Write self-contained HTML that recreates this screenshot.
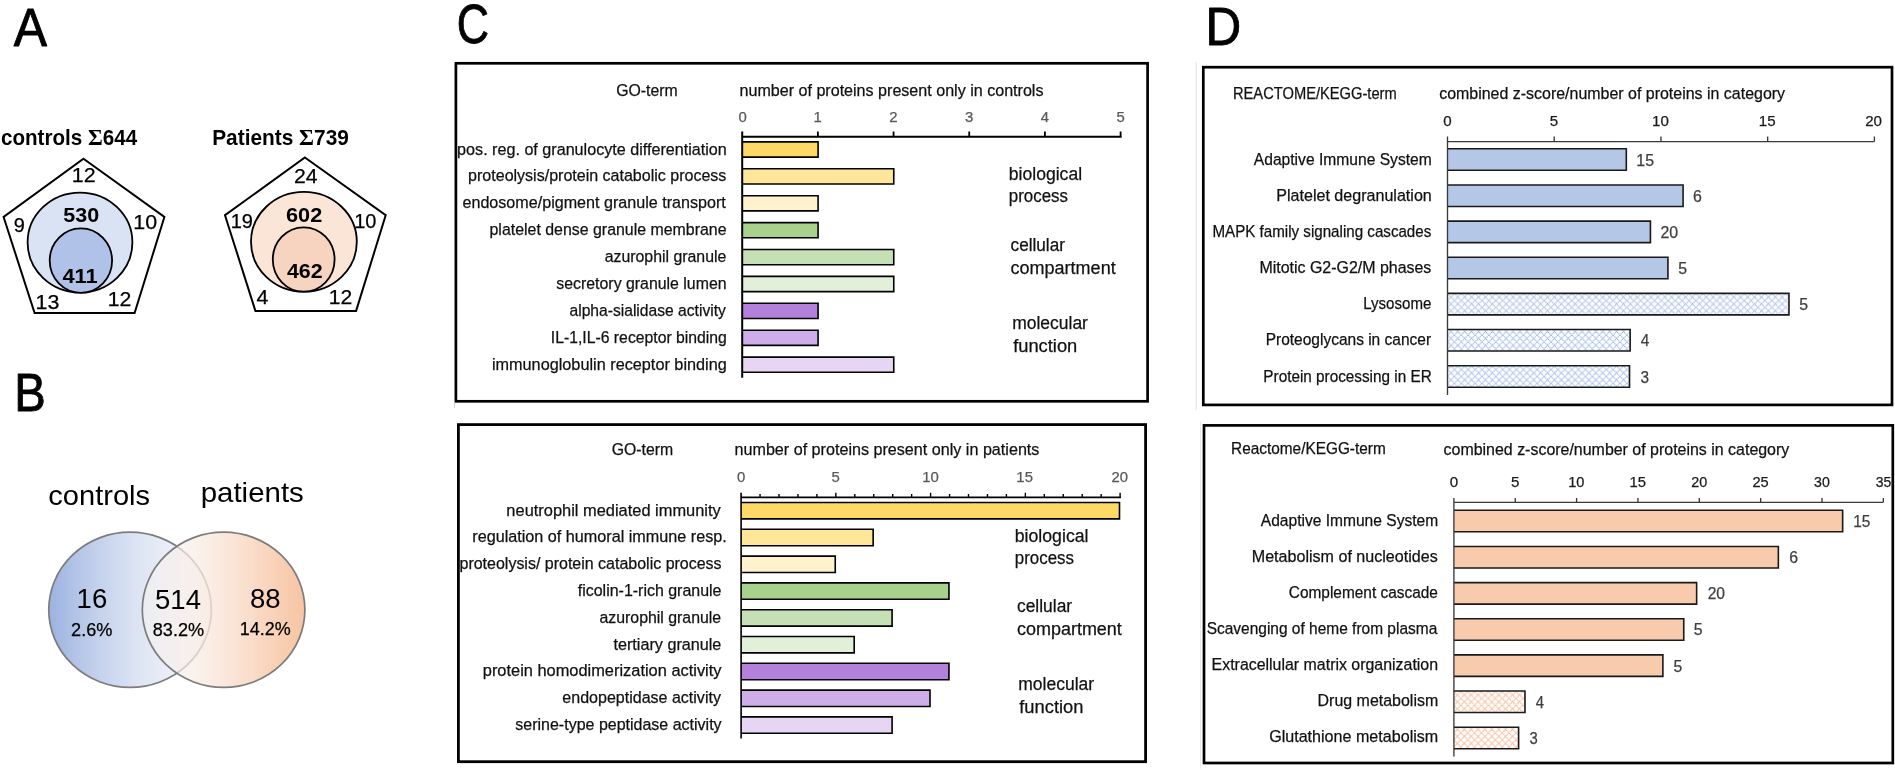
<!DOCTYPE html>
<html lang="en"><head><meta charset="utf-8"><title>Figure</title>
<style>
html,body{margin:0;padding:0;background:#fff}
body{width:1895px;height:770px;overflow:hidden}
svg{display:block}
text{font-family:"Liberation Sans",sans-serif}
</style></head><body>
<svg width="1895" height="770" viewBox="0 0 1895 770">
<defs>
<linearGradient id="gb" x1="0" y1="0" x2="1" y2="0">
<stop offset="0" stop-color="#9bb2e0"/><stop offset="0.3" stop-color="#c4d1ec"/><stop offset="0.55" stop-color="#dde4f3"/><stop offset="0.8" stop-color="#eef1f8"/><stop offset="1" stop-color="#f8f9fc"/>
</linearGradient>
<linearGradient id="go" x1="0" y1="0" x2="1" y2="0">
<stop offset="0" stop-color="#f5f3f2" stop-opacity="0.55"/><stop offset="0.35" stop-color="#f9ece4" stop-opacity="0.75"/><stop offset="0.75" stop-color="#f9d4bc" stop-opacity="0.95"/><stop offset="1" stop-color="#f7c4a2" stop-opacity="1"/>
</linearGradient>
<pattern id="hb" width="6.9" height="6.9" patternUnits="userSpaceOnUse" x="1447.5" y="293.6">
<rect width="6.9" height="6.9" fill="#fff"/>
<path d="M0 0L6.9 6.9M6.9 0L0 6.9" stroke="#96b0e2" stroke-width="1.0" stroke-dasharray="1.3 0.6" fill="none"/>
</pattern>
<pattern id="ho" width="6.9" height="6.9" patternUnits="userSpaceOnUse" x="1453.9" y="691.5">
<rect width="6.9" height="6.9" fill="#fff"/>
<path d="M0 0L6.9 6.9M6.9 0L0 6.9" stroke="#f3ac82" stroke-width="1.0" stroke-dasharray="1.3 0.6" fill="none"/>
</pattern>
</defs>
<rect width="1895" height="770" fill="#fff"/>
<g style="filter:blur(0.35px)">

<polygon points="83.5,158.8 164.4,217.0 134.6,313.1 34.6,313.1 3.6,217.0" fill="#fff" stroke="#000" stroke-width="2.0" stroke-linejoin="miter"/>
<ellipse cx="80" cy="242.5" rx="52.4" ry="49.9" fill="#d9e3f4" stroke="#000" stroke-width="1.8"/>
<ellipse cx="80.9" cy="260.6" rx="31.2" ry="32.3" fill="#b0c2e8" stroke="#000" stroke-width="1.8"/>
<polygon points="304.9,157.5 385.7,215.2 356.1,310.9 255.4,310.9 225.0,215.2" fill="#fff" stroke="#000" stroke-width="2.0" stroke-linejoin="miter"/>
<ellipse cx="303.9" cy="241.8" rx="52.9" ry="49.9" fill="#fbe5d6" stroke="#000" stroke-width="1.8"/>
<ellipse cx="303.7" cy="259.5" rx="30.9" ry="32.2" fill="#f7d4bf" stroke="#000" stroke-width="1.8"/>
<ellipse cx="130.05" cy="609.8" rx="81.3" ry="77.6" fill="url(#gb)" stroke="#7c7c7c" stroke-width="1.7"/>
<ellipse cx="223.6" cy="609.8" rx="81.3" ry="77.6" fill="url(#go)" stroke="#7c7c7c" stroke-width="1.7"/>
<rect x="455.9" y="63.3" width="691.70" height="338.00" fill="none" stroke="#000" stroke-width="2.7"/>
<rect x="458.4" y="424.6" width="687.20" height="337.10" fill="none" stroke="#000" stroke-width="2.8"/>
<rect x="1203.3" y="67.2" width="688.70" height="337.70" fill="none" stroke="#000" stroke-width="2.7"/>
<rect x="1204.0" y="425.4" width="688.80" height="337.60" fill="none" stroke="#000" stroke-width="2.7"/>
<path d="M454.4 402.5V408" stroke="#d0d0d0" stroke-width="1"/>
<path d="M1196.2 62V410" stroke="#e3e3e3" stroke-width="1"/>
<path d="M1200.6 421.8V768.7" stroke="#e8e8e8" stroke-width="1"/>
<rect x="742.2" y="141.90" width="75.88" height="15.20" fill="#ffd966"/>
<path d="M742.2 141.90h75.88v15.20h-75.88" fill="none" stroke="#000" stroke-width="1.6"/>
<rect x="742.2" y="168.80" width="151.56" height="15.20" fill="#ffe699"/>
<path d="M742.2 168.80h151.56v15.20h-151.56" fill="none" stroke="#000" stroke-width="1.6"/>
<rect x="742.2" y="195.70" width="75.88" height="15.20" fill="#fff2cc"/>
<path d="M742.2 195.70h75.88v15.20h-75.88" fill="none" stroke="#000" stroke-width="1.6"/>
<rect x="742.2" y="222.60" width="75.88" height="15.20" fill="#a9d18e"/>
<path d="M742.2 222.60h75.88v15.20h-75.88" fill="none" stroke="#000" stroke-width="1.6"/>
<rect x="742.2" y="249.50" width="151.56" height="15.20" fill="#c5e0b4"/>
<path d="M742.2 249.50h151.56v15.20h-151.56" fill="none" stroke="#000" stroke-width="1.6"/>
<rect x="742.2" y="276.40" width="151.56" height="15.20" fill="#e2f0d9"/>
<path d="M742.2 276.40h151.56v15.20h-151.56" fill="none" stroke="#000" stroke-width="1.6"/>
<rect x="742.2" y="303.30" width="75.88" height="15.20" fill="#b381db"/>
<path d="M742.2 303.30h75.88v15.20h-75.88" fill="none" stroke="#000" stroke-width="1.6"/>
<rect x="742.2" y="330.20" width="75.88" height="15.20" fill="#cdaee8"/>
<path d="M742.2 330.20h75.88v15.20h-75.88" fill="none" stroke="#000" stroke-width="1.6"/>
<rect x="742.2" y="357.10" width="151.56" height="15.20" fill="#e6d5f3"/>
<path d="M742.2 357.10h151.56v15.20h-151.56" fill="none" stroke="#000" stroke-width="1.6"/>
<path d="M742.2 131.6V377.8M741.2 136.8H1121.60" stroke="#000" stroke-width="2.0" fill="none"/>
<path d="M817.88 131.6V136.8M893.56 131.6V136.8M969.24 131.6V136.8M1044.92 131.6V136.8M1120.60 131.6V136.8" stroke="#000" stroke-width="1.8" fill="none"/>
<rect x="741.1" y="502.50" width="378.40" height="16.40" fill="#ffd966"/>
<path d="M741.1 502.50h378.40v16.40h-378.40" fill="none" stroke="#000" stroke-width="1.6"/>
<rect x="741.1" y="529.30" width="132.05" height="16.40" fill="#ffe699"/>
<path d="M741.1 529.30h132.05v16.40h-132.05" fill="none" stroke="#000" stroke-width="1.6"/>
<rect x="741.1" y="556.10" width="94.15" height="16.40" fill="#fff2cc"/>
<path d="M741.1 556.10h94.15v16.40h-94.15" fill="none" stroke="#000" stroke-width="1.6"/>
<rect x="741.1" y="582.90" width="207.85" height="16.40" fill="#a9d18e"/>
<path d="M741.1 582.90h207.85v16.40h-207.85" fill="none" stroke="#000" stroke-width="1.6"/>
<rect x="741.1" y="609.70" width="151.00" height="16.40" fill="#c5e0b4"/>
<path d="M741.1 609.70h151.00v16.40h-151.00" fill="none" stroke="#000" stroke-width="1.6"/>
<rect x="741.1" y="636.50" width="113.10" height="16.40" fill="#e2f0d9"/>
<path d="M741.1 636.50h113.10v16.40h-113.10" fill="none" stroke="#000" stroke-width="1.6"/>
<rect x="741.1" y="663.30" width="207.85" height="16.40" fill="#b381db"/>
<path d="M741.1 663.30h207.85v16.40h-207.85" fill="none" stroke="#000" stroke-width="1.6"/>
<rect x="741.1" y="690.10" width="188.90" height="16.40" fill="#cdaee8"/>
<path d="M741.1 690.10h188.90v16.40h-188.90" fill="none" stroke="#000" stroke-width="1.6"/>
<rect x="741.1" y="716.90" width="151.00" height="16.40" fill="#e6d5f3"/>
<path d="M741.1 716.90h151.00v16.40h-151.00" fill="none" stroke="#000" stroke-width="1.6"/>
<path d="M741.1 492.8V738.4M740.3000000000001 497.4H1120.90" stroke="#000" stroke-width="1.6" fill="none"/>
<path d="M760.05 494.0V497.4M779.00 494.0V497.4M797.95 494.0V497.4M816.90 494.0V497.4M835.85 492.8V497.4M854.80 494.0V497.4M873.75 494.0V497.4M892.70 494.0V497.4M911.65 494.0V497.4M930.60 492.8V497.4M949.55 494.0V497.4M968.50 494.0V497.4M987.45 494.0V497.4M1006.40 494.0V497.4M1025.35 492.8V497.4M1044.30 494.0V497.4M1063.25 494.0V497.4M1082.20 494.0V497.4M1101.15 494.0V497.4M1120.10 492.8V497.4" stroke="#000" stroke-width="1.4" fill="none"/>
<rect x="1447.5" y="148.80" width="178.81" height="21.50" fill="#b4c7e7"/>
<path d="M1447.5 148.80h178.81v21.50h-178.81" fill="none" stroke="#1a1a1a" stroke-width="1.6"/>
<rect x="1447.5" y="184.95" width="235.59" height="21.50" fill="#b4c7e7"/>
<path d="M1447.5 184.95h235.59v21.50h-235.59" fill="none" stroke="#1a1a1a" stroke-width="1.6"/>
<rect x="1447.5" y="221.10" width="202.93" height="21.50" fill="#b4c7e7"/>
<path d="M1447.5 221.10h202.93v21.50h-202.93" fill="none" stroke="#1a1a1a" stroke-width="1.6"/>
<rect x="1447.5" y="257.25" width="220.43" height="21.50" fill="#b4c7e7"/>
<path d="M1447.5 257.25h220.43v21.50h-220.43" fill="none" stroke="#1a1a1a" stroke-width="1.6"/>
<rect x="1447.5" y="293.40" width="341.46" height="21.50" fill="url(#hb)"/>
<path d="M1447.5 293.40h341.46v21.50h-341.46" fill="none" stroke="#1a1a1a" stroke-width="1.6"/>
<rect x="1447.5" y="329.55" width="182.65" height="21.50" fill="url(#hb)"/>
<path d="M1447.5 329.55h182.65v21.50h-182.65" fill="none" stroke="#1a1a1a" stroke-width="1.6"/>
<rect x="1447.5" y="365.70" width="182.01" height="21.50" fill="url(#hb)"/>
<path d="M1447.5 365.70h182.01v21.50h-182.01" fill="none" stroke="#1a1a1a" stroke-width="1.6"/>
<path d="M1447.5 136.6V394.9M1447.5 141.6H1874.40M1554.22 136.6V141.6M1660.95 136.6V141.6M1767.67 136.6V141.6M1874.40 136.6V141.6" stroke="#3a3a3a" stroke-width="1.35" fill="none"/>
<rect x="1453.9" y="510.30" width="388.75" height="21.50" fill="#f8cbad"/>
<path d="M1453.9 510.30h388.75v21.50h-388.75" fill="none" stroke="#1a1a1a" stroke-width="1.6"/>
<rect x="1453.9" y="546.45" width="324.45" height="21.50" fill="#f8cbad"/>
<path d="M1453.9 546.45h324.45v21.50h-324.45" fill="none" stroke="#1a1a1a" stroke-width="1.6"/>
<rect x="1453.9" y="582.60" width="242.74" height="21.50" fill="#f8cbad"/>
<path d="M1453.9 582.60h242.74v21.50h-242.74" fill="none" stroke="#1a1a1a" stroke-width="1.6"/>
<rect x="1453.9" y="618.75" width="229.85" height="21.50" fill="#f8cbad"/>
<path d="M1453.9 618.75h229.85v21.50h-229.85" fill="none" stroke="#1a1a1a" stroke-width="1.6"/>
<rect x="1453.9" y="654.90" width="208.99" height="21.50" fill="#f8cbad"/>
<path d="M1453.9 654.90h208.99v21.50h-208.99" fill="none" stroke="#1a1a1a" stroke-width="1.6"/>
<rect x="1453.9" y="691.05" width="71.08" height="21.50" fill="url(#ho)"/>
<path d="M1453.9 691.05h71.08v21.50h-71.08" fill="none" stroke="#1a1a1a" stroke-width="1.6"/>
<rect x="1453.9" y="727.20" width="64.70" height="21.50" fill="url(#ho)"/>
<path d="M1453.9 727.20h64.70v21.50h-64.70" fill="none" stroke="#1a1a1a" stroke-width="1.6"/>
<path d="M1453.9 497.9V756.4M1453.9 502.3H1883.35M1515.25 497.9V502.3M1576.60 497.9V502.3M1637.95 497.9V502.3M1699.30 497.9V502.3M1760.65 497.9V502.3M1822.00 497.9V502.3M1883.35 497.9V502.3" stroke="#3a3a3a" stroke-width="1.35" fill="none"/>
<text x="13.82" y="45.55" font-size="53.2" stroke="#000" stroke-width="0.9" stroke-linejoin="round" fill="#000" textLength="33.25" lengthAdjust="spacingAndGlyphs">A</text>
<text x="14.28" y="411.35" font-size="53.2" stroke="#000" stroke-width="0.9" stroke-linejoin="round" fill="#000" textLength="31.50" lengthAdjust="spacingAndGlyphs">B</text>
<text x="456.81" y="42.70" font-size="54.8" stroke="#000" stroke-width="0.9" stroke-linejoin="round" fill="#000" textLength="32.23" lengthAdjust="spacingAndGlyphs">C</text>
<text x="1205.60" y="45.15" font-size="53.2" stroke="#000" stroke-width="0.9" stroke-linejoin="round" fill="#000" textLength="35.70" lengthAdjust="spacingAndGlyphs">D</text>
<text x="0.97" y="145.10" font-size="21.2" font-weight="bold" fill="#000" textLength="136.29" lengthAdjust="spacingAndGlyphs">controls <tspan font-family="Liberation Serif,serif" font-weight="bold" font-size="23.3">Σ</tspan>644</text>
<text x="212.22" y="145.10" font-size="21.2" font-weight="bold" fill="#000" textLength="136.62" lengthAdjust="spacingAndGlyphs">Patients <tspan font-family="Liberation Serif,serif" font-weight="bold" font-size="23.3">Σ</tspan>739</text>
<text x="71.84" y="182.00" font-size="21" stroke="#000" stroke-width="0.25" fill="#000" textLength="23.83" lengthAdjust="spacingAndGlyphs">12</text>
<text x="13.82" y="231.70" font-size="21" stroke="#000" stroke-width="0.25" fill="#000" textLength="11.10" lengthAdjust="spacingAndGlyphs">9</text>
<text x="133.26" y="229.00" font-size="21" stroke="#000" stroke-width="0.25" fill="#000" textLength="23.83" lengthAdjust="spacingAndGlyphs">10</text>
<text x="35.57" y="308.50" font-size="21" stroke="#000" stroke-width="0.25" fill="#000" textLength="23.80" lengthAdjust="spacingAndGlyphs">13</text>
<text x="107.78" y="306.10" font-size="21" stroke="#000" stroke-width="0.25" fill="#000" textLength="23.64" lengthAdjust="spacingAndGlyphs">12</text>
<text x="63.23" y="221.80" font-size="21" font-weight="bold" fill="#000" textLength="35.88" lengthAdjust="spacingAndGlyphs">530</text>
<text x="62.43" y="282.50" font-size="21" font-weight="bold" fill="#000" textLength="35.25" lengthAdjust="spacingAndGlyphs">411</text>
<text x="293.99" y="183.10" font-size="21" stroke="#000" stroke-width="0.25" fill="#000" textLength="23.63" lengthAdjust="spacingAndGlyphs">24</text>
<text x="286.03" y="222.40" font-size="21" font-weight="bold" fill="#000" textLength="36.20" lengthAdjust="spacingAndGlyphs">602</text>
<text x="286.94" y="278.00" font-size="21" font-weight="bold" fill="#000" textLength="35.77" lengthAdjust="spacingAndGlyphs">462</text>
<text x="230.67" y="227.70" font-size="21" stroke="#000" stroke-width="0.25" fill="#000" textLength="22.29" lengthAdjust="spacingAndGlyphs">19</text>
<text x="354.15" y="227.70" font-size="21" stroke="#000" stroke-width="0.25" fill="#000" textLength="22.19" lengthAdjust="spacingAndGlyphs">10</text>
<text x="256.44" y="304.00" font-size="21" stroke="#000" stroke-width="0.25" fill="#000" textLength="11.92" lengthAdjust="spacingAndGlyphs">4</text>
<text x="328.79" y="304.00" font-size="21" stroke="#000" stroke-width="0.25" fill="#000" textLength="23.53" lengthAdjust="spacingAndGlyphs">12</text>
<text x="48.33" y="504.70" font-size="28.5" fill="#000" textLength="101.74" lengthAdjust="spacingAndGlyphs">controls</text>
<text x="200.69" y="502.20" font-size="28.5" fill="#000" textLength="103.12" lengthAdjust="spacingAndGlyphs">patients</text>
<text x="76.62" y="607.70" font-size="27" fill="#000" textLength="30.65" lengthAdjust="spacingAndGlyphs">16</text>
<text x="71.11" y="635.70" font-size="18.4" stroke="#000" stroke-width="0.25" fill="#000" textLength="41.35" lengthAdjust="spacingAndGlyphs">2.6%</text>
<text x="155.04" y="608.80" font-size="27" fill="#000" textLength="45.96" lengthAdjust="spacingAndGlyphs">514</text>
<text x="152.76" y="636.40" font-size="18.4" stroke="#000" stroke-width="0.25" fill="#000" textLength="51.39" lengthAdjust="spacingAndGlyphs">83.2%</text>
<text x="250.00" y="607.70" font-size="27" fill="#000" textLength="30.65" lengthAdjust="spacingAndGlyphs">88</text>
<text x="239.63" y="635.30" font-size="18.4" stroke="#000" stroke-width="0.25" fill="#000" textLength="51.01" lengthAdjust="spacingAndGlyphs">14.2%</text>
<text x="616.17" y="95.50" font-size="16.3" stroke="#111" stroke-width="0.25" fill="#111" textLength="61.56" lengthAdjust="spacingAndGlyphs">GO-term</text>
<text x="739.51" y="96.20" font-size="16.3" stroke="#111" stroke-width="0.25" fill="#111" textLength="303.98" lengthAdjust="spacingAndGlyphs">number of proteins present only in controls</text>
<text x="738.52" y="121.80" font-size="14.6" stroke="#595959" stroke-width="0.25" fill="#595959" textLength="8.29" lengthAdjust="spacingAndGlyphs">0</text>
<text x="813.46" y="121.80" font-size="14.6" stroke="#595959" stroke-width="0.25" fill="#595959" textLength="8.29" lengthAdjust="spacingAndGlyphs">1</text>
<text x="889.29" y="121.80" font-size="14.6" stroke="#595959" stroke-width="0.25" fill="#595959" textLength="8.29" lengthAdjust="spacingAndGlyphs">2</text>
<text x="965.12" y="121.80" font-size="14.6" stroke="#595959" stroke-width="0.25" fill="#595959" textLength="8.29" lengthAdjust="spacingAndGlyphs">3</text>
<text x="1040.85" y="121.80" font-size="14.6" stroke="#595959" stroke-width="0.25" fill="#595959" textLength="8.23" lengthAdjust="spacingAndGlyphs">4</text>
<text x="1116.52" y="121.80" font-size="14.6" stroke="#595959" stroke-width="0.25" fill="#595959" textLength="8.29" lengthAdjust="spacingAndGlyphs">5</text>
<text x="457.11" y="154.50" font-size="16.3" stroke="#111" stroke-width="0.25" fill="#111" textLength="269.72" lengthAdjust="spacingAndGlyphs">pos. reg. of granulocyte differentiation</text>
<text x="468.12" y="181.40" font-size="16.3" stroke="#111" stroke-width="0.25" fill="#111" textLength="258.28" lengthAdjust="spacingAndGlyphs">proteolysis/protein catabolic process</text>
<text x="462.46" y="208.30" font-size="16.3" stroke="#111" stroke-width="0.25" fill="#111" textLength="263.34" lengthAdjust="spacingAndGlyphs">endosome/pigment granule transport</text>
<text x="489.52" y="235.20" font-size="16.3" stroke="#111" stroke-width="0.25" fill="#111" textLength="236.99" lengthAdjust="spacingAndGlyphs">platelet dense granule membrane</text>
<text x="604.67" y="262.10" font-size="16.3" stroke="#111" stroke-width="0.25" fill="#111" textLength="121.69" lengthAdjust="spacingAndGlyphs">azurophil granule</text>
<text x="556.31" y="289.00" font-size="16.3" stroke="#111" stroke-width="0.25" fill="#111" textLength="170.29" lengthAdjust="spacingAndGlyphs">secretory granule lumen</text>
<text x="569.48" y="315.90" font-size="16.3" stroke="#111" stroke-width="0.25" fill="#111" textLength="156.37" lengthAdjust="spacingAndGlyphs">alpha-sialidase activity</text>
<text x="550.85" y="342.80" font-size="16.3" stroke="#111" stroke-width="0.25" fill="#111" textLength="175.98" lengthAdjust="spacingAndGlyphs">IL-1,IL-6 receptor binding</text>
<text x="491.90" y="369.70" font-size="16.3" stroke="#111" stroke-width="0.25" fill="#111" textLength="234.87" lengthAdjust="spacingAndGlyphs">immunoglobulin receptor binding</text>
<text x="1008.80" y="179.70" font-size="18.3" stroke="#111" stroke-width="0.25" fill="#111" textLength="73.29" lengthAdjust="spacingAndGlyphs">biological</text>
<text x="1008.84" y="202.40" font-size="18.3" stroke="#111" stroke-width="0.25" fill="#111" textLength="59.16" lengthAdjust="spacingAndGlyphs">process</text>
<text x="1010.60" y="251.10" font-size="18.3" stroke="#111" stroke-width="0.25" fill="#111" textLength="54.30" lengthAdjust="spacingAndGlyphs">cellular</text>
<text x="1010.56" y="274.20" font-size="18.3" stroke="#111" stroke-width="0.25" fill="#111" textLength="105.12" lengthAdjust="spacingAndGlyphs">compartment</text>
<text x="1012.21" y="328.80" font-size="18.3" stroke="#111" stroke-width="0.25" fill="#111" textLength="75.73" lengthAdjust="spacingAndGlyphs">molecular</text>
<text x="1013.15" y="351.70" font-size="18.3" stroke="#111" stroke-width="0.25" fill="#111" textLength="64.13" lengthAdjust="spacingAndGlyphs">function</text>
<text x="611.77" y="454.70" font-size="16.3" stroke="#111" stroke-width="0.25" fill="#111" textLength="61.46" lengthAdjust="spacingAndGlyphs">GO-term</text>
<text x="734.51" y="455.10" font-size="16.3" stroke="#111" stroke-width="0.25" fill="#111" textLength="304.90" lengthAdjust="spacingAndGlyphs">number of proteins present only in patients</text>
<text x="736.92" y="481.70" font-size="14.6" stroke="#595959" stroke-width="0.25" fill="#595959" textLength="8.29" lengthAdjust="spacingAndGlyphs">0</text>
<text x="831.52" y="481.70" font-size="14.6" stroke="#595959" stroke-width="0.25" fill="#595959" textLength="8.29" lengthAdjust="spacingAndGlyphs">5</text>
<text x="922.16" y="481.70" font-size="14.6" stroke="#595959" stroke-width="0.25" fill="#595959" textLength="16.56" lengthAdjust="spacingAndGlyphs">10</text>
<text x="1016.36" y="481.70" font-size="14.6" stroke="#595959" stroke-width="0.25" fill="#595959" textLength="16.56" lengthAdjust="spacingAndGlyphs">15</text>
<text x="1111.64" y="481.70" font-size="14.6" stroke="#595959" stroke-width="0.25" fill="#595959" textLength="16.45" lengthAdjust="spacingAndGlyphs">20</text>
<text x="506.39" y="515.60" font-size="16.3" stroke="#111" stroke-width="0.25" fill="#111" textLength="214.38" lengthAdjust="spacingAndGlyphs">neutrophil mediated immunity</text>
<text x="472.31" y="542.40" font-size="16.3" stroke="#111" stroke-width="0.25" fill="#111" textLength="254.49" lengthAdjust="spacingAndGlyphs">regulation of humoral immune resp.</text>
<text x="459.52" y="569.20" font-size="16.3" stroke="#111" stroke-width="0.25" fill="#111" textLength="262.09" lengthAdjust="spacingAndGlyphs">proteolysis/ protein catabolic process</text>
<text x="577.75" y="596.00" font-size="16.3" stroke="#111" stroke-width="0.25" fill="#111" textLength="143.74" lengthAdjust="spacingAndGlyphs">ficolin-1-rich granule</text>
<text x="599.47" y="622.80" font-size="16.3" stroke="#111" stroke-width="0.25" fill="#111" textLength="121.69" lengthAdjust="spacingAndGlyphs">azurophil granule</text>
<text x="613.45" y="649.60" font-size="16.3" stroke="#111" stroke-width="0.25" fill="#111" textLength="107.95" lengthAdjust="spacingAndGlyphs">tertiary granule</text>
<text x="482.79" y="676.40" font-size="16.3" stroke="#111" stroke-width="0.25" fill="#111" textLength="238.70" lengthAdjust="spacingAndGlyphs">protein homodimerization activity</text>
<text x="562.36" y="703.20" font-size="16.3" stroke="#111" stroke-width="0.25" fill="#111" textLength="158.56" lengthAdjust="spacingAndGlyphs">endopeptidase activity</text>
<text x="515.31" y="730.00" font-size="16.3" stroke="#111" stroke-width="0.25" fill="#111" textLength="206.31" lengthAdjust="spacingAndGlyphs">serine-type peptidase activity</text>
<text x="1014.79" y="541.70" font-size="18.3" stroke="#111" stroke-width="0.25" fill="#111" textLength="73.70" lengthAdjust="spacingAndGlyphs">biological</text>
<text x="1014.84" y="564.40" font-size="18.3" stroke="#111" stroke-width="0.25" fill="#111" textLength="59.16" lengthAdjust="spacingAndGlyphs">process</text>
<text x="1016.99" y="612.30" font-size="18.3" stroke="#111" stroke-width="0.25" fill="#111" textLength="55.12" lengthAdjust="spacingAndGlyphs">cellular</text>
<text x="1016.96" y="635.00" font-size="18.3" stroke="#111" stroke-width="0.25" fill="#111" textLength="104.92" lengthAdjust="spacingAndGlyphs">compartment</text>
<text x="1018.30" y="689.90" font-size="18.3" stroke="#111" stroke-width="0.25" fill="#111" textLength="75.84" lengthAdjust="spacingAndGlyphs">molecular</text>
<text x="1019.25" y="712.60" font-size="18.3" stroke="#111" stroke-width="0.25" fill="#111" textLength="64.24" lengthAdjust="spacingAndGlyphs">function</text>
<text x="1232.97" y="98.70" font-size="16.3" stroke="#111" stroke-width="0.25" fill="#111" textLength="163.76" lengthAdjust="spacingAndGlyphs">REACTOME/KEGG-term</text>
<text x="1439.16" y="99.00" font-size="16.3" stroke="#111" stroke-width="0.25" fill="#111" textLength="345.92" lengthAdjust="spacingAndGlyphs">combined z-score/number of proteins in category</text>
<text x="1443.39" y="126.00" font-size="14.8" stroke="#1a1a1a" stroke-width="0.25" fill="#1a1a1a" textLength="8.40" lengthAdjust="spacingAndGlyphs">0</text>
<text x="1549.89" y="126.00" font-size="14.8" stroke="#1a1a1a" stroke-width="0.25" fill="#1a1a1a" textLength="8.40" lengthAdjust="spacingAndGlyphs">5</text>
<text x="1652.03" y="126.00" font-size="14.8" stroke="#1a1a1a" stroke-width="0.25" fill="#1a1a1a" textLength="16.80" lengthAdjust="spacingAndGlyphs">10</text>
<text x="1758.86" y="126.00" font-size="14.8" stroke="#1a1a1a" stroke-width="0.25" fill="#1a1a1a" textLength="16.80" lengthAdjust="spacingAndGlyphs">15</text>
<text x="1865.16" y="126.00" font-size="14.8" stroke="#1a1a1a" stroke-width="0.25" fill="#1a1a1a" textLength="16.80" lengthAdjust="spacingAndGlyphs">20</text>
<text x="1253.80" y="164.60" font-size="16.3" stroke="#111" stroke-width="0.25" fill="#111" textLength="177.97" lengthAdjust="spacingAndGlyphs">Adaptive Immune System</text>
<text x="1276.27" y="200.75" font-size="16.3" stroke="#111" stroke-width="0.25" fill="#111" textLength="155.54" lengthAdjust="spacingAndGlyphs">Platelet degranulation</text>
<text x="1212.44" y="236.90" font-size="16.3" stroke="#111" stroke-width="0.25" fill="#111" textLength="218.86" lengthAdjust="spacingAndGlyphs">MAPK family signaling cascades</text>
<text x="1259.38" y="273.05" font-size="16.3" stroke="#111" stroke-width="0.25" fill="#111" textLength="171.96" lengthAdjust="spacingAndGlyphs">Mitotic G2-G2/M phases</text>
<text x="1363.24" y="309.20" font-size="16.3" stroke="#111" stroke-width="0.25" fill="#111" textLength="68.12" lengthAdjust="spacingAndGlyphs">Lysosome</text>
<text x="1265.71" y="345.35" font-size="16.3" stroke="#111" stroke-width="0.25" fill="#111" textLength="165.34" lengthAdjust="spacingAndGlyphs">Proteoglycans in cancer</text>
<text x="1263.33" y="381.50" font-size="16.3" stroke="#111" stroke-width="0.25" fill="#111" textLength="168.36" lengthAdjust="spacingAndGlyphs">Protein processing in ER</text>
<text x="1636.37" y="165.60" font-size="15.6" stroke="#404040" stroke-width="0.25" fill="#404040" textLength="17.71" lengthAdjust="spacingAndGlyphs">15</text>
<text x="1693.09" y="201.75" font-size="15.6" stroke="#404040" stroke-width="0.25" fill="#404040" textLength="8.86" lengthAdjust="spacingAndGlyphs">6</text>
<text x="1660.44" y="237.90" font-size="15.6" stroke="#404040" stroke-width="0.25" fill="#404040" textLength="17.68" lengthAdjust="spacingAndGlyphs">20</text>
<text x="1678.29" y="274.05" font-size="15.6" stroke="#404040" stroke-width="0.25" fill="#404040" textLength="8.86" lengthAdjust="spacingAndGlyphs">5</text>
<text x="1799.19" y="310.20" font-size="15.6" stroke="#404040" stroke-width="0.25" fill="#404040" textLength="8.86" lengthAdjust="spacingAndGlyphs">5</text>
<text x="1640.75" y="346.35" font-size="15.6" stroke="#404040" stroke-width="0.25" fill="#404040" textLength="8.58" lengthAdjust="spacingAndGlyphs">4</text>
<text x="1640.51" y="382.50" font-size="15.6" stroke="#404040" stroke-width="0.25" fill="#404040" textLength="8.57" lengthAdjust="spacingAndGlyphs">3</text>
<text x="1231.02" y="454.30" font-size="16.3" stroke="#111" stroke-width="0.25" fill="#111" textLength="154.74" lengthAdjust="spacingAndGlyphs">Reactome/KEGG-term</text>
<text x="1443.57" y="455.30" font-size="16.3" stroke="#111" stroke-width="0.25" fill="#111" textLength="345.72" lengthAdjust="spacingAndGlyphs">combined z-score/number of proteins in category</text>
<text x="1449.69" y="487.20" font-size="14.8" stroke="#1a1a1a" stroke-width="0.25" fill="#1a1a1a" textLength="8.40" lengthAdjust="spacingAndGlyphs">0</text>
<text x="1511.04" y="487.20" font-size="14.8" stroke="#1a1a1a" stroke-width="0.25" fill="#1a1a1a" textLength="8.40" lengthAdjust="spacingAndGlyphs">5</text>
<text x="1568.21" y="487.20" font-size="14.8" stroke="#1a1a1a" stroke-width="0.25" fill="#1a1a1a" textLength="16.25" lengthAdjust="spacingAndGlyphs">10</text>
<text x="1629.55" y="487.20" font-size="14.8" stroke="#1a1a1a" stroke-width="0.25" fill="#1a1a1a" textLength="16.52" lengthAdjust="spacingAndGlyphs">15</text>
<text x="1691.17" y="487.20" font-size="14.8" stroke="#1a1a1a" stroke-width="0.25" fill="#1a1a1a" textLength="15.98" lengthAdjust="spacingAndGlyphs">20</text>
<text x="1752.51" y="487.20" font-size="14.8" stroke="#1a1a1a" stroke-width="0.25" fill="#1a1a1a" textLength="16.25" lengthAdjust="spacingAndGlyphs">25</text>
<text x="1814.12" y="487.20" font-size="14.8" stroke="#1a1a1a" stroke-width="0.25" fill="#1a1a1a" textLength="15.73" lengthAdjust="spacingAndGlyphs">30</text>
<text x="1875.78" y="487.20" font-size="14.8" stroke="#1a1a1a" stroke-width="0.25" fill="#1a1a1a" textLength="15.65" lengthAdjust="spacingAndGlyphs">35</text>
<text x="1260.80" y="525.50" font-size="16.3" stroke="#111" stroke-width="0.25" fill="#111" textLength="177.37" lengthAdjust="spacingAndGlyphs">Adaptive Immune System</text>
<text x="1251.77" y="561.65" font-size="16.3" stroke="#111" stroke-width="0.25" fill="#111" textLength="185.93" lengthAdjust="spacingAndGlyphs">Metabolism of nucleotides</text>
<text x="1288.79" y="597.80" font-size="16.3" stroke="#111" stroke-width="0.25" fill="#111" textLength="149.09" lengthAdjust="spacingAndGlyphs">Complement cascade</text>
<text x="1206.69" y="633.95" font-size="16.3" stroke="#111" stroke-width="0.25" fill="#111" textLength="230.56" lengthAdjust="spacingAndGlyphs">Scavenging of heme from plasma</text>
<text x="1211.58" y="670.10" font-size="16.3" stroke="#111" stroke-width="0.25" fill="#111" textLength="226.51" lengthAdjust="spacingAndGlyphs">Extracellular matrix organization</text>
<text x="1317.57" y="706.25" font-size="16.3" stroke="#111" stroke-width="0.25" fill="#111" textLength="120.67" lengthAdjust="spacingAndGlyphs">Drug metabolism</text>
<text x="1269.16" y="742.40" font-size="16.3" stroke="#111" stroke-width="0.25" fill="#111" textLength="169.08" lengthAdjust="spacingAndGlyphs">Glutathione metabolism</text>
<text x="1853.27" y="526.90" font-size="15.6" stroke="#404040" stroke-width="0.25" fill="#404040" textLength="17.14" lengthAdjust="spacingAndGlyphs">15</text>
<text x="1789.29" y="563.05" font-size="15.6" stroke="#404040" stroke-width="0.25" fill="#404040" textLength="8.86" lengthAdjust="spacingAndGlyphs">6</text>
<text x="1707.65" y="599.20" font-size="15.6" stroke="#404040" stroke-width="0.25" fill="#404040" textLength="17.36" lengthAdjust="spacingAndGlyphs">20</text>
<text x="1693.74" y="635.35" font-size="15.6" stroke="#404040" stroke-width="0.25" fill="#404040" textLength="8.86" lengthAdjust="spacingAndGlyphs">5</text>
<text x="1673.44" y="671.50" font-size="15.6" stroke="#404040" stroke-width="0.25" fill="#404040" textLength="8.75" lengthAdjust="spacingAndGlyphs">5</text>
<text x="1535.76" y="707.65" font-size="15.6" stroke="#404040" stroke-width="0.25" fill="#404040" textLength="8.25" lengthAdjust="spacingAndGlyphs">4</text>
<text x="1529.61" y="743.80" font-size="15.6" stroke="#404040" stroke-width="0.25" fill="#404040" textLength="8.25" lengthAdjust="spacingAndGlyphs">3</text>
</g></svg></body></html>
